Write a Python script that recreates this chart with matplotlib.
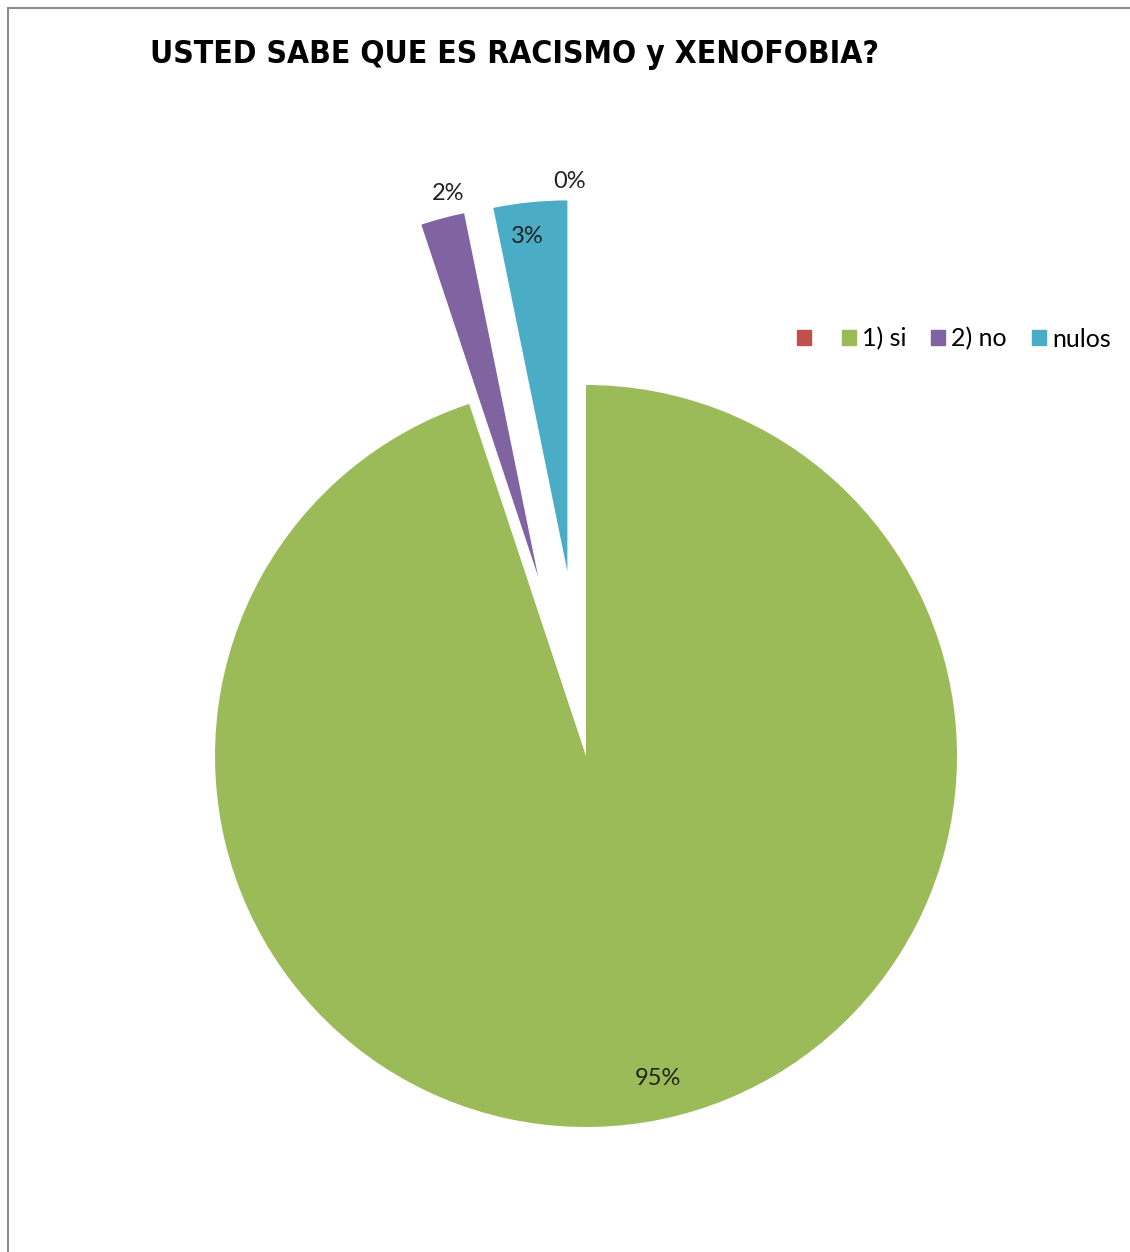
import numpy as np
import matplotlib.pyplot as plt
from matplotlib.patches import Rectangle

# data
labels = ['', '1) si', '2) no', 'nulos']
values = [0, 94.9, 1.9, 3.2]
pct_text = ['0%', '95%', '2%', '3%']
colors = ['#C0504D', '#9BBB59', '#8064A2', '#4BACC6']
explode = [0, 0, 0.5, 0.5]
# label placement (radius in pie units, angle in degrees)
label_pos = [(1.55, 91.6), (0.89, -77.4), (1.56, 103.8), (1.41, 96.4)]

plt.rcParams['font.family'] = ['Lato', 'DejaVu Sans']

W, H = 1130, 1252
fig = plt.figure(figsize=(W / 100, H / 100), dpi=100)

# outer frame
fig.patches.append(Rectangle((8 / W, -0.01), 1.02, 1 - 8 / H + 0.01, transform=fig.transFigure,
                             fill=False, edgecolor='#8c8c8c', linewidth=1.5))

cx, cy, r = 586, 756, 371
ax = fig.add_axes([(cx - r) / W, (H - cy - r) / H, 2 * r / W, 2 * r / H])
wedges, texts = ax.pie(values, colors=colors, explode=explode, startangle=90,
                       counterclock=False, wedgeprops=dict(linewidth=0))
for w in wedges:
    w.set_clip_on(False)
for txt, (rr, ang) in zip(pct_text, label_pos):
    a = np.deg2rad(ang)
    ax.text(rr * np.cos(a), rr * np.sin(a), txt, fontsize=17, color='#222222',
            ha='center', va='center', clip_on=False)
ax.set_xlim(-1, 1)
ax.set_ylim(-1, 1)
ax.set_aspect('equal')
ax.axis('off')

title = fig.text(515 / W, 1 - 55 / H, 'USTED SABE QUE ES RACISMO y XENOFOBIA?',
                 family=['DejaVu Sans'], fontstretch='condensed', fontweight='bold',
                 fontsize=40, ha='center', va='center')
# shrink the title until it spans the same width as the original
fig.canvas.draw()
bw = title.get_window_extent().width
title.set_fontsize(40 * 730 / bw)

handles = [Rectangle((0, 0), 1, 1, color=c) for c in colors]
fig.legend(handles, labels, loc='center left', bbox_to_anchor=(792 / W, 1 - 339 / H),
           ncol=4, frameon=False, fontsize=18, handlelength=0.55, handleheight=0.55,
           handletextpad=0.25, columnspacing=1.0, borderaxespad=0, borderpad=0.2)

fig.savefig('out.png', dpi=100)
